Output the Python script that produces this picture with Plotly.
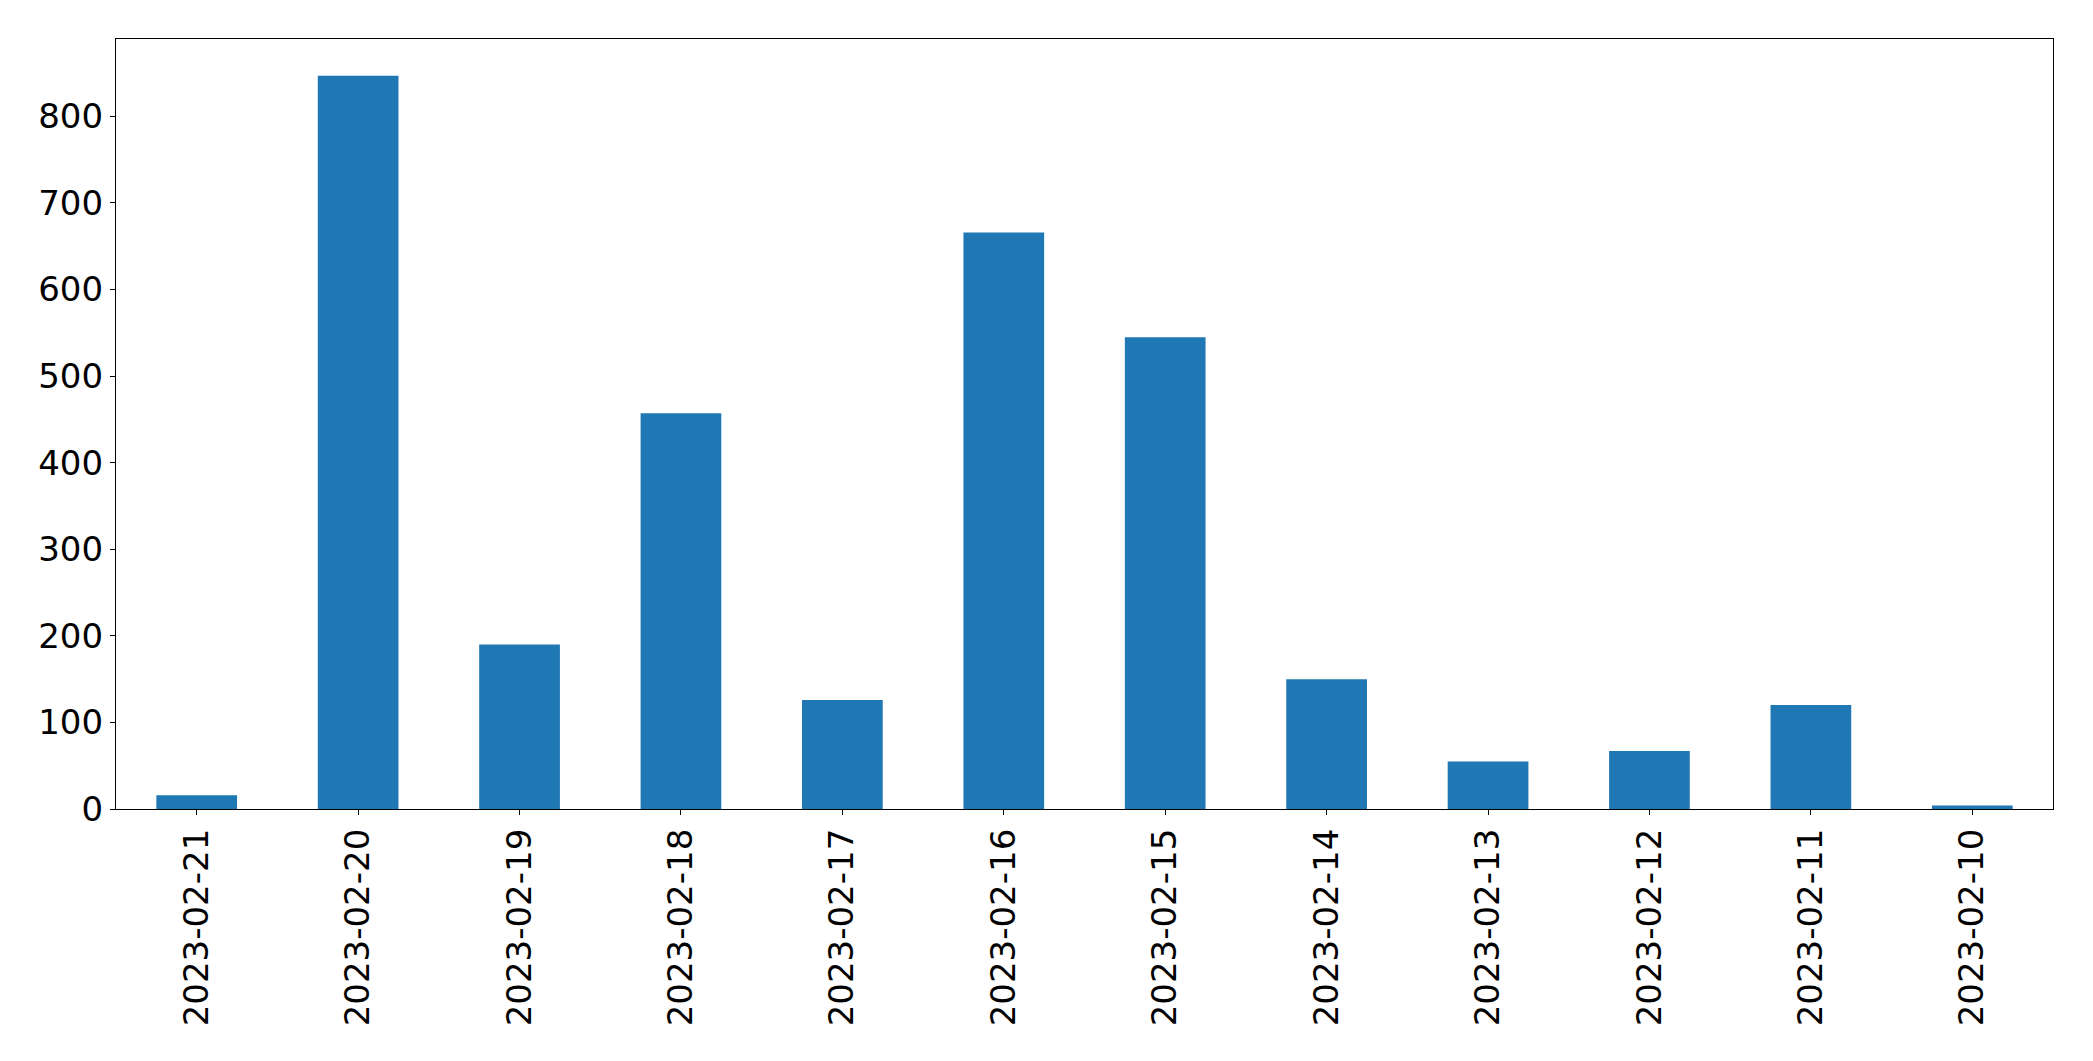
import plotly.graph_objects as go

dates = ["2023-02-21", "2023-02-20", "2023-02-19", "2023-02-18", "2023-02-17", "2023-02-16",
         "2023-02-15", "2023-02-14", "2023-02-13", "2023-02-12", "2023-02-11", "2023-02-10"]
counts = [16, 847, 190, 457, 126, 666, 545, 150, 55, 67, 120, 4]
y_ticks = [0, 100, 200, 300, 400, 500, 600, 700, 800]

fig = go.Figure(go.Bar(x=dates, y=counts, width=0.5, marker_color="#1f77b4",
                       marker_line_width=0))

font = dict(family="DejaVu Sans", size=34, color="black")
fig.update_layout(
    width=2093, height=1061,
    margin=dict(l=108, r=48, t=31, b=260),
    plot_bgcolor="white", paper_bgcolor="white",
    showlegend=False,
    font=font,
)
fig.update_xaxes(type="category", range=[-0.5, len(dates) - 0.5], tickangle=-90,
                 showline=True, linecolor="black", linewidth=1.3, mirror=True,
                 ticks="outside", ticklen=5, tickcolor="black", tickwidth=1.3,
                 showgrid=False, tickfont=font)
fig.update_yaxes(range=[0, max(counts) * 1.05], tickvals=y_ticks,
                 showline=True, linecolor="black", linewidth=1.3, mirror=True,
                 ticks="outside", ticklen=5, tickcolor="black", tickwidth=1.3,
                 showgrid=False, zeroline=False, tickfont=font)

fig.write_html("out.html")
